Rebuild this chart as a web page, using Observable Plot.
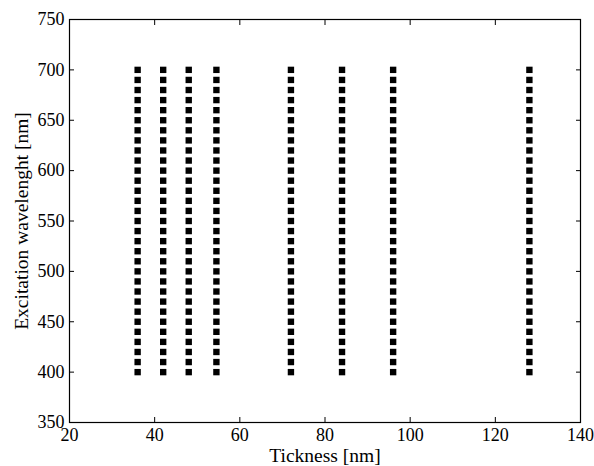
<!DOCTYPE html>
<html>
<head>
<meta charset="utf-8">
<script src="https://cdn.jsdelivr.net/npm/d3@7"></script>
<script src="https://cdn.jsdelivr.net/npm/@observablehq/plot@0.6"></script>
<style>
  body { margin: 0; background: #fff; }
  svg text { font-family: 'Liberation Serif', serif !important; font-variant: normal !important; }
</style>
</head>
<body>
<div id="chart"></div>
<script>
const thicknesses = [36, 42, 48, 54.5, 72, 84, 96, 128];
const wavelengths = [400, 410, 420, 430, 440, 450, 460, 470, 480, 490, 500, 510, 520, 530, 540, 550, 560, 570, 580, 590, 600, 610, 620, 630, 640, 650, 660, 670, 680, 690, 700];
const xTicks = [20, 40, 60, 80, 100, 120, 140];
const yTicks = [350, 400, 450, 500, 550, 600, 650, 700, 750];

const data = thicknesses.flatMap(t => wavelengths.map(w => ({t, w})));
const font = {fontFamily: "'Liberation Serif', serif", fontVariant: "normal"};

const chart = Plot.plot({
  width: 594,
  height: 466,
  marginLeft: 69,
  marginRight: 14,
  marginTop: 19,
  marginBottom: 44,
  style: {fontFamily: "'Liberation Serif', serif", fontSize: "18px", color: "#000", background: "#fff"},
  x: {domain: [20, 140]},
  y: {domain: [350, 750]},
  marks: [
    Plot.frame({stroke: "#000", strokeWidth: 1.2}),
    Plot.axisX({...font, anchor: "bottom", ticks: xTicks, tickSize: -5, tickPadding: 11, label: null}),
    Plot.axisX({...font, anchor: "bottom", ticks: [], label: "Tickness [nm]", labelAnchor: "center", labelArrow: "none", labelOffset: 39, fontSize: 19.5}),
    Plot.axisX({anchor: "top", ticks: xTicks, tickSize: -5, tickFormat: () => "", label: null}),
    Plot.axisY({...font, anchor: "left", ticks: yTicks, tickSize: -5, tickPadding: 10, label: null}),
    Plot.axisY({...font, anchor: "left", ticks: [], label: "Excitation wavelenght [nm]", labelAnchor: "center", labelArrow: "none", labelOffset: 55, fontSize: 19.5}),
    Plot.axisY({anchor: "right", ticks: yTicks, tickSize: -5, tickFormat: () => "", label: null}),
    Plot.dot(data, {x: "t", y: "w", symbol: "square", r: 3.6, fill: "#000", stroke: "none"})
  ]
});
document.getElementById("chart").appendChild(chart);
</script>
</body>
</html>
